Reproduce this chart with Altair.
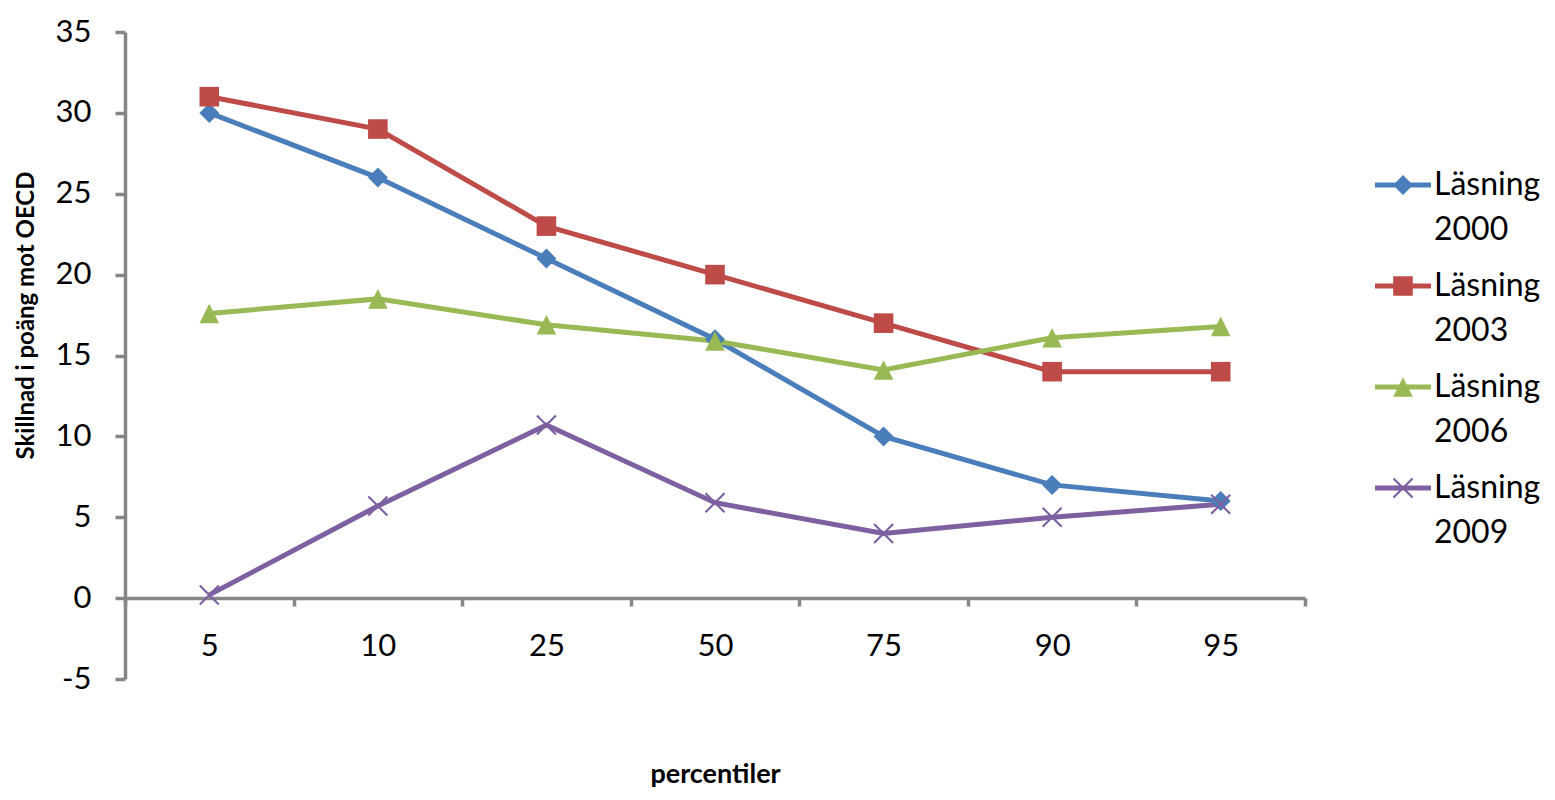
import altair as alt
import pandas as pd

# ---- data ----
percentiles = ["5", "10", "25", "50", "75", "90", "95"]
series = ["Läsning 2000", "Läsning 2003", "Läsning 2006", "Läsning 2009"]
v2000 = [30, 26, 21, 16, 10, 7, 6]
v2003 = [31, 29, 23, 20, 17, 14, 14]
v2006 = [17.6, 18.5, 16.9, 15.9, 14.1, 16.1, 16.8]
v2009 = [0.2, 5.7, 10.7, 5.9, 4.0, 5.0, 5.8]
y_ticks = [-5, 0, 5, 10, 15, 20, 25, 30, 35]

colors = ["#4A7EBB", "#BE4B48", "#98B954", "#7D60A0"]

rows = []
for name, vals in zip(series, [v2000, v2003, v2006, v2009]):
    for p, v in zip(percentiles, vals):
        rows.append({"pct": p, "value": v, "series": name})
df = pd.DataFrame(rows)


# ---- marker shapes (unit paths) ----
def xpath(s, w, dy=0.0):
    a = w
    p1 = f"M{-s+a},{-s-a+dy}L{s+a},{s-a+dy}L{s-a},{s+a+dy}L{-s-a},{-s+a+dy}Z"
    p2 = f"M{-s-a},{s-a+dy}L{s-a},{-s-a+dy}L{s+a},{-s+a+dy}L{-s+a},{s+a+dy}Z"
    return p1 + p2


def diamond(s, dy=0.0):
    return f"M0,{-s+dy}L{s},{dy}L0,{s+dy}L{-s},{dy}Z"


def square(s, dy=0.0):
    return f"M{-s},{-s+dy}H{s}V{s+dy}H{-s}Z"


def triangle(s, dy=0.0):
    return f"M0,{-s+dy}L{s},{s+dy}H{-s}Z"


marker_paths = [diamond(1.0), square(0.98), triangle(0.98), xpath(0.95, 0.075)]

# legend symbols: line + marker
R = 28.0
k = 10.0 / R
line_part = "M-1,-0.09H1V0.09H-1Z"
legend_paths = [
    line_part + diamond(1.0 * k),
    line_part + square(0.98 * k),
    line_part + triangle(0.98 * k),
    line_part + xpath(0.95 * k, 0.075 * k),
]

FONT = "Lato"
AXIS_GRAY = "#868686"

x_enc = alt.X(
    "pct:O",
    bandPosition=0.5,
    scale=alt.Scale(type="band", domain=percentiles, paddingInner=0, paddingOuter=0),
    axis=alt.Axis(
        title="percentiler",
        offset=-81,
        labelAngle=0,
        labelFont=FONT,
        labelFontSize=31,
        labelColor="black",
        labelPadding=25,
        domainColor=AXIS_GRAY,
        domainWidth=3.5,
        tickColor=AXIS_GRAY,
        tickWidth=3.5,
        tickSize=8,
        tickBand="extent",
        titleFont=FONT,
        titleFontSize=27,
        titleFontWeight="bold",
        titleColor="black",
        titleY=176,
        titleBaseline="middle",
    ),
)

y_enc = alt.Y(
    "value:Q",
    scale=alt.Scale(domain=[-5, 35], nice=False, zero=False),
    axis=alt.Axis(
        title="Skillnad i poäng mot OECD",
        values=y_ticks,
        labelExpr="'' + datum.value",
        grid=False,
        labelFont=FONT,
        labelFontSize=31,
        labelColor="black",
        labelPadding=24,
        domainColor=AXIS_GRAY,
        domainWidth=3.5,
        tickColor=AXIS_GRAY,
        tickWidth=3.5,
        tickSize=10,
        titleFont=FONT,
        titleFontSize=24,
        titleFontWeight="bold",
        titleColor="black",
        titleX=-99,
        titleY=283,
        titleBaseline="middle",
    ),
)

base = alt.Chart(df)

lines = base.mark_line(strokeWidth=5).encode(
    x=x_enc,
    y=y_enc,
    color=alt.Color("series:N", scale=alt.Scale(domain=series, range=colors), legend=None),
    detail="series:N",
)

markers = base.mark_point(filled=True, size=400, opacity=1).encode(
    x=x_enc,
    y=y_enc,
    color=alt.Color("series:N", scale=alt.Scale(domain=series, range=colors), legend=None),
    shape=alt.Shape("series:N", scale=alt.Scale(domain=series, range=marker_paths), legend=None),
)

legend_props = dict(
    title=None,
    orient="none",
    legendX=1250,
    legendY=125,
    padding=0,
    symbolSize=3136,
    symbolStrokeWidth=0,
    symbolOpacity=1,
    labelFont=FONT,
    labelFontSize=32,
    labelColor="black",
    labelOffset=3,
    labelBaseline="middle",
    labelExpr="split(datum.label, ' ')",
    rowPadding=12,
    labelLimit=300,
)

legend_layer = base.transform_filter("false").mark_point(filled=True, size=400, opacity=1).encode(
    x=x_enc,
    y=y_enc,
    color=alt.Color(
        "series:N",
        scale=alt.Scale(domain=series, range=colors),
        legend=alt.Legend(**legend_props),
    ),
    shape=alt.Shape(
        "series:N",
        scale=alt.Scale(domain=series, range=legend_paths),
        legend=alt.Legend(**legend_props),
    ),
)

chart = (
    alt.layer(lines, markers, legend_layer)
    .resolve_scale(color="independent", shape="independent")
    .properties(
        width=1180,
        height=647,
        autosize=alt.AutoSizeParams(type="none"),
        padding={"left": 117, "top": 24, "right": 242, "bottom": 113},
        background="white",
    )
    .configure(
        view=alt.ViewConfig(strokeWidth=0, stroke="transparent"),
        style={"guide-label": {"lineHeight": 45}},
    )
)

chart.save("out.html", embed_options={"renderer": "svg", "actions": False})
